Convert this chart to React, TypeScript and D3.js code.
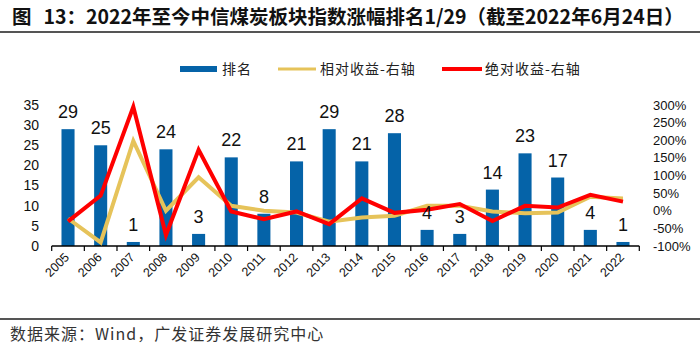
import React from "react";
import * as d3 from "d3";

// 2022年至今中信煤炭板块指数涨幅排名
const years = ["2005", "2006", "2007", "2008", "2009", "2010", "2011", "2012", "2013", "2014", "2015", "2016", "2017", "2018", "2019", "2020", "2021", "2022"];
const rank = [29, 25, 1, 24, 3, 22, 8, 21, 29, 21, 28, 4, 3, 14, 23, 17, 4, 1];
// 相对收益 / 绝对收益, in %
const relative = [-22, -90, 198, 0, 95, 14, 0, -5, -31, -19, -14, 14, 14, -2, -7, -5, 40, 35];
const absolute = [-30, 43, 295, -69, 173, -2, -24, -2, -38, 35, -6, 3, 19, -29, 14, 9, 45, 26];
const leftTicks = [0, 5, 10, 15, 20, 25, 30, 35];
const rightTicks = [-100, -50, 0, 50, 100, 150, 200, 250, 300];

const W = 700;
const H = 353;
const BLUE = "#0563a8";
const YELLOW = "#e6c35a";
const RED = "#ff0000";
const SANS = "'Liberation Sans', Arial, 'Noto Sans CJK SC', sans-serif";
const CJK = "'Noto Sans CJK SC', 'Liberation Sans', sans-serif";

export default function App() {
  const plot = { left: 51.7, right: 639.3, top: 105, bottom: 246 };

  const xBand = d3
    .scaleBand<string>()
    .domain(years)
    .range([plot.left, plot.right])
    .paddingInner(0.6)
    .paddingOuter(0.3);
  // unpadded band for the tick marks between categories
  const xCat = d3.scaleBand<string>().domain(years).range([plot.left, plot.right]).padding(0);
  const cx = (d: string) => (xCat(d) as number) + xCat.bandwidth() / 2;

  const yL = d3.scaleLinear().domain([0, 35]).range([plot.bottom, plot.top]);
  const yR = d3.scaleLinear().domain([-100, 300]).range([plot.bottom, plot.top]);

  const line = d3
    .line<number>()
    .x((_, i) => cx(years[i]))
    .y((d) => yR(d));

  const tickXs = years.map((d) => xCat(d) as number).concat(plot.right);

  return (
    <svg
      width={W}
      height={H}
      style={{ position: "absolute", left: 0, top: 0, background: "#fff" }}
    >
      {/* title */}
      <text x={12} y={24} fontFamily={CJK} fontWeight="bold" fontSize={19.5} fill="#111">
        <tspan>图</tspan>
        <tspan dx={12}>13：2022年至今中信煤炭板块指数涨幅排名1/29（截至2022年6月24日）</tspan>
      </text>
      <line x1={0} x2={W} y1={32} y2={32} stroke="#555" strokeWidth={2} />

      {/* legend */}
      <g fontFamily={CJK} fontSize={14} fill="#222">
        <rect x={180} y={66} width={37} height={6} fill={BLUE} />
        <text x={222} y={74} letterSpacing={1}>排名</text>
        <line x1={278} x2={316} y1={69} y2={69} stroke={YELLOW} strokeWidth={3} />
        <text x={320} y={74} letterSpacing={1}>相对收益-右轴</text>
        <line x1={442} x2={482} y1={69} y2={69} stroke={RED} strokeWidth={4} />
        <text x={485} y={74} letterSpacing={1}>绝对收益-右轴</text>
      </g>

      {/* left axis labels */}
      <g fontFamily={SANS} fontSize={14} fill="#111" textAnchor="end">
        {leftTicks.map((t) => (
          <text key={t} x={39} y={yL(t)} dy="0.35em">
            {t}
          </text>
        ))}
      </g>

      {/* right axis labels */}
      <g fontFamily={SANS} fontSize={13} fill="#111" textAnchor="start">
        {rightTicks.map((t) => (
          <text key={t} x={653} y={yR(t)} dy="0.35em">
            {t}%
          </text>
        ))}
      </g>

      {/* bars */}
      {years.map((d, i) => (
        <rect
          key={d}
          x={xBand(d)}
          y={yL(rank[i])}
          width={xBand.bandwidth()}
          height={yL(0) - yL(rank[i])}
          fill={BLUE}
        />
      ))}

      {/* x axis */}
      <line x1={plot.left} x2={plot.right} y1={plot.bottom} y2={plot.bottom} stroke="#000" strokeWidth={1.5} />
      {tickXs.map((x, i) => (
        <line key={i} x1={x} x2={x} y1={plot.bottom} y2={plot.bottom + 5} stroke="#000" strokeWidth={1.2} />
      ))}
      <g fontFamily={SANS} fontSize={12.5} fill="#111" textAnchor="end">
        {years.map((d) => (
          <text key={d} transform={`translate(${cx(d) + 2},${plot.bottom + 12}) rotate(-45)`}>
            {d}
          </text>
        ))}
      </g>

      {/* lines */}
      <path d={line(relative) ?? ""} fill="none" stroke={YELLOW} strokeWidth={4} strokeLinejoin="miter" />
      <path d={line(absolute) ?? ""} fill="none" stroke={RED} strokeWidth={4} strokeLinejoin="miter" />

      {/* bar value labels */}
      <g fontFamily={SANS} fontSize={18} fill="#111" textAnchor="middle">
        {years.map((d, i) => (
          <text key={d} x={cx(d)} y={yL(rank[i]) - 11}>
            {rank[i]}
          </text>
        ))}
      </g>

      {/* source */}
      <line x1={0} x2={W} y1={319} y2={319} stroke="#555" strokeWidth={2} />
      <text x={10} y={340} fontFamily={CJK} fontSize={16} fill="#333" letterSpacing={1}>
        数据来源：Wind，广发证券发展研究中心
      </text>
    </svg>
  );
}
